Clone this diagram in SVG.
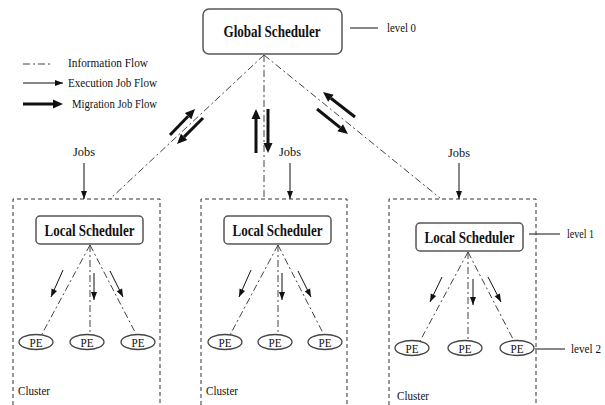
<svg xmlns="http://www.w3.org/2000/svg" width="605" height="405" viewBox="0 0 605 405">
<style>
  text { font-family: "Liberation Serif", "Times New Roman", serif; fill: #111; }
  .lbl { font-size: 13px; }
  .title { font-size: 16px; font-weight: bold; }
  .box { fill: #fff; stroke: #555; stroke-width: 1.5; }
  .pe { fill: #fff; stroke: #444; stroke-width: 1.3; }
  .info { fill: none; stroke: #444; stroke-width: 1; stroke-dasharray: 7 3 2 3; }
  .cluster { fill: none; stroke: #333; stroke-width: 1; stroke-dasharray: 4 3; }
  .exec { fill: none; stroke: #111; stroke-width: 1; marker-end: url(#thin); }
  .mig { fill: none; stroke: #111; stroke-width: 3; marker-end: url(#thick); }
  .lvl { stroke: #111; stroke-width: 1; }
</style>
<defs>
  <marker id="thin" markerUnits="userSpaceOnUse" markerWidth="10" markerHeight="8" viewBox="0 -4 8 8" refX="8" refY="0" orient="auto">
    <path d="M0,-3 L8,0 L0,3 z" fill="#111"/>
  </marker>
  <marker id="thick" markerUnits="userSpaceOnUse" markerWidth="12" markerHeight="10" viewBox="0 -5 10 10" refX="0" refY="0" orient="auto">
    <path d="M0,-4.5 L10,0 L0,4.5 z" fill="#111"/>
  </marker>
</defs>

<g id="legend">
  <line class="info" x1="23" y1="64" x2="53" y2="64"/>
  <text class="lbl" x="68" y="67" textLength="80" lengthAdjust="spacingAndGlyphs">Information Flow</text>
  <line class="exec" x1="23" y1="83" x2="63" y2="83"/>
  <text class="lbl" x="68" y="87" textLength="89" lengthAdjust="spacingAndGlyphs">Execution Job Flow</text>
  <line class="mig" x1="23" y1="104" x2="53" y2="104"/>
  <text class="lbl" x="72" y="108" textLength="85" lengthAdjust="spacingAndGlyphs">Migration Job Flow</text>
</g>

<g id="levels">
  <line class="lvl" x1="350" y1="28" x2="378" y2="28"/>
  <text class="lbl" x="387" y="32" font-size="12" textLength="29" lengthAdjust="spacingAndGlyphs">level 0</text>
  <line class="lvl" x1="529" y1="234" x2="560" y2="234"/>
  <text class="lbl" x="567" y="238" textLength="27" lengthAdjust="spacingAndGlyphs">level 1</text>
  <line class="lvl" x1="535" y1="349" x2="565" y2="349"/>
  <text class="lbl" x="571" y="353" textLength="30" lengthAdjust="spacingAndGlyphs">level 2</text>
</g>

<g id="cluster-1">
  <path class="cluster" d="M13,405 V199 H160 V405"/>
  <text class="lbl" x="18" y="395" textLength="32" lengthAdjust="spacingAndGlyphs">Cluster</text>
</g>
<g id="cluster-2">
  <path class="cluster" d="M201,405 V199 H347 V405"/>
  <text class="lbl" x="206" y="395" textLength="32" lengthAdjust="spacingAndGlyphs">Cluster</text>
</g>
<g id="cluster-3">
  <path class="cluster" d="M389,405 V199 H536 V405"/>
  <text class="lbl" x="397" y="400" textLength="32" lengthAdjust="spacingAndGlyphs">Cluster</text>
</g>

<g id="connectors">
  <line class="info" x1="264" y1="55" x2="110" y2="199"/>
  <line class="info" x1="264" y1="55" x2="264" y2="199"/>
  <line class="info" x1="264" y1="55" x2="440" y2="198"/>
  <line class="mig" x1="170" y1="135" x2="188.1" y2="116.2"/>
  <line class="mig" x1="203" y1="118" x2="184.1" y2="136.9"/>
  <line class="mig" x1="256" y1="153" x2="256" y2="119"/>
  <line class="mig" x1="268" y1="109" x2="268" y2="143"/>
  <line class="mig" x1="355" y1="117" x2="330.9" y2="98.2"/>
  <line class="mig" x1="317" y1="109" x2="340.2" y2="127.7"/>
  <line class="exec" x1="84" y1="163" x2="84" y2="199"/>
  <line class="exec" x1="290" y1="163" x2="290" y2="199"/>
  <line class="exec" x1="459" y1="163" x2="459" y2="199"/>
  <line class="info" x1="90" y1="245" x2="42" y2="334"/>
  <line class="info" x1="90" y1="245" x2="90" y2="334"/>
  <line class="info" x1="90" y1="245" x2="136" y2="334"/>
  <line class="exec" x1="63" y1="270" x2="51" y2="297"/>
  <line class="exec" x1="94" y1="273" x2="94" y2="300"/>
  <line class="exec" x1="110" y1="271" x2="123" y2="297"/>
  <line class="info" x1="278" y1="245" x2="230" y2="335"/>
  <line class="info" x1="278" y1="245" x2="278" y2="335"/>
  <line class="info" x1="278" y1="245" x2="324" y2="335"/>
  <line class="exec" x1="251" y1="270" x2="239" y2="297"/>
  <line class="exec" x1="282" y1="273" x2="282" y2="300"/>
  <line class="exec" x1="298" y1="271" x2="311" y2="297"/>
  <line class="info" x1="468" y1="252" x2="420" y2="341"/>
  <line class="info" x1="468" y1="252" x2="468" y2="341"/>
  <line class="info" x1="468" y1="252" x2="514" y2="341"/>
  <line class="exec" x1="442" y1="277" x2="430" y2="302"/>
  <line class="exec" x1="473" y1="279" x2="473" y2="305"/>
  <line class="exec" x1="488" y1="277" x2="501" y2="302"/>
</g>

<g id="jobs-labels">
  <text class="lbl" x="84" y="156" text-anchor="middle" textLength="22" lengthAdjust="spacingAndGlyphs">Jobs</text>
  <text class="lbl" x="290" y="156" text-anchor="middle" textLength="22" lengthAdjust="spacingAndGlyphs">Jobs</text>
  <text class="lbl" x="459" y="157" text-anchor="middle" textLength="22" lengthAdjust="spacingAndGlyphs">Jobs</text>
</g>

<g id="global-scheduler">
  <rect class="box" x="203" y="9" width="139" height="45" rx="6"/>
  <text class="title" x="272" y="37" font-size="17" text-anchor="middle" textLength="97" lengthAdjust="spacingAndGlyphs">Global Scheduler</text>
</g>

<g id="local-scheduler-1">
  <rect class="box" x="36" y="216" width="107" height="28" rx="4"/>
  <text class="title" x="89.5" y="236" text-anchor="middle" textLength="90" lengthAdjust="spacingAndGlyphs">Local Scheduler</text>
</g>
<g id="local-scheduler-2">
  <rect class="box" x="224" y="216" width="107" height="28" rx="4"/>
  <text class="title" x="277.5" y="236" text-anchor="middle" textLength="90" lengthAdjust="spacingAndGlyphs">Local Scheduler</text>
</g>
<g id="local-scheduler-3">
  <rect class="box" x="416" y="223" width="107" height="28" rx="4"/>
  <text class="title" x="469.5" y="243" text-anchor="middle" textLength="90" lengthAdjust="spacingAndGlyphs">Local Scheduler</text>
</g>

<g id="pe-1-1"><ellipse class="pe" cx="36" cy="342" rx="17" ry="7.5"/><text class="lbl" x="36" y="346.5" text-anchor="middle" textLength="13" lengthAdjust="spacingAndGlyphs">PE</text></g>
<g id="pe-1-2"><ellipse class="pe" cx="87" cy="342" rx="17" ry="7.5"/><text class="lbl" x="87" y="346.5" text-anchor="middle" textLength="13" lengthAdjust="spacingAndGlyphs">PE</text></g>
<g id="pe-1-3"><ellipse class="pe" cx="138" cy="342" rx="17" ry="7.5"/><text class="lbl" x="138" y="346.5" text-anchor="middle" textLength="13" lengthAdjust="spacingAndGlyphs">PE</text></g>
<g id="pe-2-1"><ellipse class="pe" cx="225" cy="342" rx="17" ry="7.5"/><text class="lbl" x="225" y="346.5" text-anchor="middle" textLength="13" lengthAdjust="spacingAndGlyphs">PE</text></g>
<g id="pe-2-2"><ellipse class="pe" cx="275" cy="342" rx="17" ry="7.5"/><text class="lbl" x="275" y="346.5" text-anchor="middle" textLength="13" lengthAdjust="spacingAndGlyphs">PE</text></g>
<g id="pe-2-3"><ellipse class="pe" cx="325" cy="342" rx="17" ry="7.5"/><text class="lbl" x="325" y="346.5" text-anchor="middle" textLength="13" lengthAdjust="spacingAndGlyphs">PE</text></g>
<g id="pe-3-1"><ellipse class="pe" cx="412" cy="348" rx="17" ry="7.5"/><text class="lbl" x="412" y="352.5" text-anchor="middle" textLength="13" lengthAdjust="spacingAndGlyphs">PE</text></g>
<g id="pe-3-2"><ellipse class="pe" cx="465" cy="348" rx="17" ry="7.5"/><text class="lbl" x="465" y="352.5" text-anchor="middle" textLength="13" lengthAdjust="spacingAndGlyphs">PE</text></g>
<g id="pe-3-3"><ellipse class="pe" cx="517" cy="348" rx="17" ry="7.5"/><text class="lbl" x="517" y="352.5" text-anchor="middle" textLength="13" lengthAdjust="spacingAndGlyphs">PE</text></g>
</svg>
